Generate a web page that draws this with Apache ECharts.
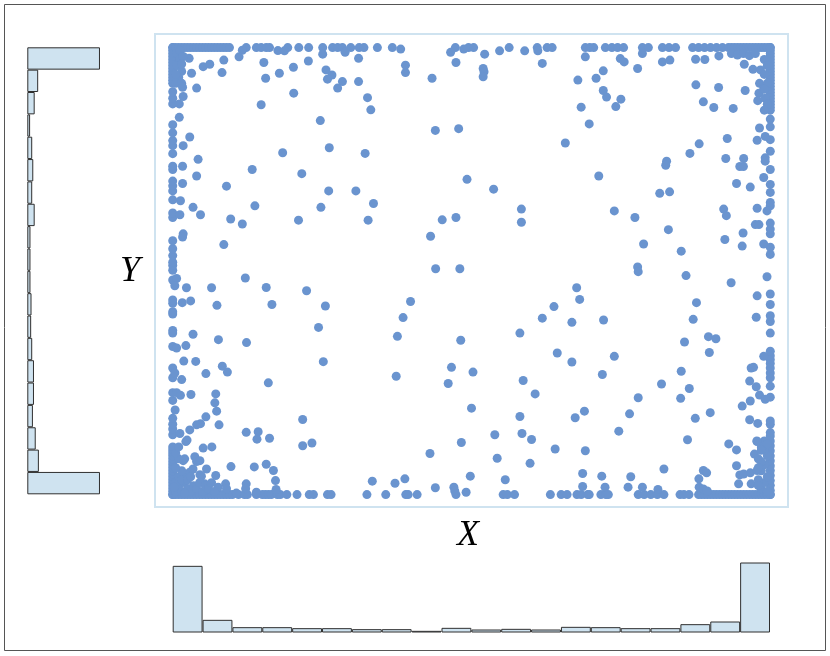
<!DOCTYPE html>
<html>
<head>
<meta charset="utf-8">
<script src="https://cdn.jsdelivr.net/npm/echarts@6/dist/echarts.min.js"></script>
<style>
  html, body { margin: 0; padding: 0; background: #fff; }
  #main { width: 830px; height: 656px; }
</style>
</head>
<body>
<div id="main"></div>
<script>
// points sitting on the edges of the data range (x 0..200, y 0..150)
var leftEdgeY = [0, 1, 2, 3, 4, 5, 6, 7, 8, 9, 10, 11, 12, 13, 14, 15, 16, 20.1, 22, 23.6, 25.6, 31.6, 34.2, 39.2,
  42.5, 49.7, 54.2, 55.1, 60.6, 61.4, 64.2, 65.3, 72, 75.3, 76.9, 78, 80.2, 82.5, 85.2, 93, 94.5, 98.9,
  101.9, 103.6, 105.2, 109.1, 110.2, 114.4, 117.1, 118.8, 121.4, 124.1, 131.1, 133, 135.2,
  138, 139, 140, 141, 142, 143, 144, 145, 146, 147, 148, 149, 150];
var rightEdgeY = [0, 1.4, 3.1, 4.7, 6.4, 8.1, 9.7, 11.4, 13, 14.7, 16.4, 18, 19.7, 20.8, 23.6, 24.7, 32.7, 36.4,
  39.2, 40.8, 42.5, 44, 45.3, 46.6, 48.1, 54.2, 58.1, 60, 63.8, 67.3, 80.6, 83, 87.5, 89.1, 91.1, 96.9, 98,
  101.4, 104.1, 109.1, 115.2, 119.1, 123.4, 126, 129, 130, 131, 132, 133, 134, 135, 136, 137, 138, 139,
  140, 141, 142, 143, 144, 145, 146, 147, 148, 149, 150];
var bottomEdgeX = [0, 1, 2, 3, 4, 5, 6, 7, 8, 9, 10, 11, 12, 13, 14, 15, 16, 17, 18, 19, 20, 22, 24, 25, 28, 30,
  31, 32, 33, 35, 36, 38.2, 41.6, 45.7, 47.1, 51.8, 53, 65, 71.3, 78, 78.8, 81.8, 94.8, 110.6, 112, 114.4,
  126.4, 130, 132, 135.3, 136.7, 138.9, 139.4, 143.3, 145, 145.8, 155.8, 157.8, 160, 162.2, 164.4, 169.8,
  171.1, 172.8, 176, 177, 178, 179, 180, 181, 182, 183, 184, 185, 186, 187, 188, 189, 190, 191, 192, 193,
  194, 195, 196, 197, 198, 199, 200];
var topEdgeX = [0, 1, 2, 3, 4, 5, 6, 7, 8, 9, 10, 11, 12, 13, 14, 15, 16, 17, 18, 19, 24.6, 28, 29.6, 31.3, 32.4,
  38.5, 42.2, 45.5, 50.2, 53.5, 55.2, 56.8, 59.6, 62.4, 64, 68.5, 73.5, 94.6, 99, 100.7, 112.6, 122, 125.3,
  127, 138.1, 139.6, 140.9, 144.8, 147, 148.9, 150.9, 157.2, 159.2, 163.9, 166.1, 168.3, 174, 176, 178,
  180, 182, 184, 186, 187, 188, 189, 190, 191, 192, 193, 194, 195, 196, 197, 198, 199, 200];

// points inside the range
var innerPts = [
  // upper left
  [5.5, 146.4], [10.2, 143.6], [12.4, 144.4], [17.1, 145.8], [22.2, 146.9], [23.3, 149.1], [30.5, 145],
  [6.3, 141.4], [16.5, 141.6], [31.1, 139.7], [35.7, 141.4], [40.4, 143.4], [45.4, 145.5], [51.3, 142.5],
  [53.3, 140.8], [51.8, 139.4], [62.2, 146.4], [77.9, 144.1], [77.9, 141.6], [86.8, 139.7], [94.8, 145],
  [35.2, 149], [37.4, 148.9], [50.2, 147.8], [57.7, 148.4], [76.3, 149.5], [93, 148.4], [97.4, 149.5],
  [1.5, 148], [2.5, 146], [1.5, 144], [3, 142], [2, 140], [1, 138], [2.5, 149], [3.5, 147], [3, 144.5], [1, 141],
  [3, 138], [3.3, 136.7], [8, 136.4], [40.5, 134.7], [56.8, 138.6], [55.2, 136.4], [62.2, 138.6], [3.5, 133.6],
  [2.2, 131.1], [29.6, 130.8], [65.2, 133.2], [66.3, 129.1], [2.2, 126.6], [49.4, 125.5], [87.9, 122.2],
  [95.7, 122.8], [5.7, 120], [3.5, 117.1], [52.4, 116.4], [36.8, 114.7], [64.4, 114.5], [3.3, 110.2],
  [8.5, 112.5], [8, 106.9], [26.6, 109.1], [43.2, 107.7], [98.5, 105.8], [3.3, 104.4], [18, 103.5],
  [52.2, 101.9], [61.3, 101.9], [2.6, 98.6], [67.2, 97.7], [6.8, 96.4], [27.5, 96.9], [49.6, 96.4],
  [9.3, 93.9], [2.4, 93.9], [19.4, 92.5], [23.3, 90.8], [42.1, 92.1], [65.4, 92.1], [90.2, 92.2], [94.8, 93],
  [3.5, 87.5], [3.3, 86.4], [17.1, 83.9], [86.3, 86.7],
  // upper right
  [103.9, 143], [104.2, 141.9], [103.9, 140.2], [104.4, 147.8], [109.4, 148.9], [117.8, 148.9], [122.2, 148.9],
  [123.7, 144.7], [138.1, 146.9], [149.8, 146.3], [151.1, 145.2], [155.6, 143], [157.2, 148], [163.9, 145.2],
  [166.4, 145.8], [175, 146.1], [178.1, 146], [182.8, 147.2], [187, 148], [189, 147.5], [191, 148],
  [193, 147.3], [195, 148], [191.3, 144.4], [194.2, 142.7], [196.7, 142.5], [196.4, 138], [197.8, 136.4],
  [196.2, 134.7], [195.8, 132.2], [198.3, 133], [198, 146], [199, 144], [198, 141], [199, 138], [198, 136],
  [199, 131], [198, 129],
  [135.6, 139.1], [141.7, 139.7], [144.1, 142.2], [144.1, 135.6], [145.2, 133.4], [150, 132.7], [148.3, 130.2],
  [136.7, 130], [139.4, 124.4], [131.4, 118], [175.1, 137.5], [182.7, 136.6], [191.6, 135.6], [177.6, 131.8],
  [181.1, 129.9], [187.6, 129.6], [196.4, 123], [195.6, 118.9], [198.3, 120.2], [185.6, 119.5], [176.2, 117.7],
  [173.1, 114.5], [165.3, 111.9], [165, 110.5], [185.1, 112.8], [191.1, 112.8], [189.8, 110.1], [191, 110.1],
  [198.3, 113], [198.3, 111.9], [197.8, 106.4], [198.9, 95.2], [142.6, 106.9], [107.4, 102.5], [116.7, 95.8],
  [116.7, 91.4], [147.8, 95.2], [154.7, 93], [163, 101.1], [166.3, 101.6], [165.9, 88.9], [157.6, 84.1],
  [170.2, 81.7], [155.6, 76.4], [184.4, 95.8], [185.3, 93.6], [188.7, 104.4], [193.3, 103.2], [195.6, 96.1],
  [195, 90.6], [196.2, 90.6], [184.8, 85.6], [190.9, 87.8], [190.6, 83.4], [197.8, 84.1],
  // lower left
  [88, 75.8], [96.1, 75.8], [1.3, 72.5], [0.7, 70.1], [4.6, 69.4], [13, 69.4], [24.3, 72.7], [31.3, 69.5],
  [44.8, 68.4], [3.2, 64.4], [6, 65], [14.8, 63.5], [33.2, 63.8], [51.1, 63.3], [79.6, 64.8], [77.1, 59.4],
  [48.8, 56.1], [75.2, 53.1], [96.4, 51.8], [6.8, 53.8], [15.3, 52], [24.7, 51], [1.3, 49.2], [4.4, 50],
  [3.7, 44.8], [7.7, 44.7], [50.4, 44.6], [0.7, 40.8], [3, 38.6], [11.1, 40.6], [16.6, 43.1], [18.3, 41.1],
  [32, 37.5], [74.8, 39.7], [93.3, 42.7], [100.5, 41.1], [92.2, 37.3], [1.3, 34.2], [2.6, 33.3], [6.1, 33.6],
  [14.4, 33.8], [14.1, 30.8], [14.7, 28], [0.8, 28.4], [100, 29], [11.1, 26.1], [8, 23.4], [9.3, 23.8],
  [15.5, 23.4], [43.5, 25.2], [2.4, 20.5], [5.7, 21.7], [24.6, 20.9], [28.6, 21.1], [28.2, 18.6], [32.4, 18.9],
  [4.4, 17.8], [4.8, 18.3], [43.5, 16.4], [46.6, 17.3], [96.6, 17.5], [86.1, 13.8], [10.2, 15.6], [13.1, 16],
  [3.5, 11.4], [4, 12], [7.4, 12.7], [8, 11.1], [9.1, 11.4], [6.8, 8.6], [5.7, 7.5], [4.4, 6.7], [11.3, 8.6],
  [9.6, 6.2], [9.1, 6.7], [14.4, 6.4], [19.5, 9.4], [27.3, 9.3], [31.3, 10.2], [33.7, 8.1], [34.4, 4.7],
  [24.6, 3.6], [17.7, 3.6], [66.8, 4.5], [74.4, 3.8], [77.7, 5.3], [87.9, 2.3], [94.1, 2.5], [94.4, 1.2],
  [98.2, 0.8], [99.6, 6.2], [6.8, 2.5], [10.7, 3.6], [15.2, 2.5], [18, 2], [21.3, 0.5], [24.4, 2], [28, 0.8],
  [34.6, 1.7], [1, 1], [2, 3], [3, 1], [4, 4], [5, 2], [6, 1], [1, 4], [2, 6], [3, 5], [0.5, 2.5], [4, 0.5],
  [5, 5], [7, 3], [8, 2], [9, 4], [10, 1], [11, 3], [12, 2], [13, 4], [14, 1], [6, 6], [3, 8], [1, 9], [2, 12],
  [1, 14], [2, 16],
  // lower right
  [155.8, 74.8], [171.8, 73.5], [186.9, 71.1], [198.9, 73.1], [135.2, 69.4], [136.2, 65.5], [127.6, 63.1],
  [123.7, 59.2], [133.6, 57.8], [144.2, 58.6], [195.6, 66.7], [175.3, 64.4], [174.2, 58.8], [195.3, 59.5],
  [116.2, 54.2], [179.3, 53], [181.8, 52.3], [171.3, 51.2], [179.6, 47.7], [128.7, 47.5], [133.6, 44.5],
  [147.8, 46.4], [117.3, 38.3], [143.8, 40.3], [170.2, 41.4], [193.6, 42.5], [194.4, 42.7], [193.1, 38.1],
  [195.3, 36.2], [196.4, 33.4], [198.3, 32], [197.8, 46.4], [121.3, 33.8], [163.6, 37.1], [172.9, 35.6],
  [170, 32.3], [155.8, 32.5], [193.3, 31.4], [190.6, 29.7], [116.2, 26.2], [134.7, 25.8], [137.8, 28],
  [152.9, 27.1], [179.9, 27.5], [174.9, 25.6], [193.1, 25.1], [195.8, 23.9], [107.8, 20.1], [116.9, 20.5],
  [120.1, 18.5], [149.3, 21.3], [172.3, 18.4], [195.6, 17.8], [108.6, 12.2], [128, 15.3], [138.1, 14.7],
  [119.6, 10.5], [186.1, 17], [188.7, 15], [194.7, 13.6], [197.2, 15.3], [111.3, 5], [137.2, 7.1],
  [143.6, 6.2], [153.3, 6], [164.4, 8.6], [177.6, 8.1], [178.7, 7.3], [176.1, 5.3], [188.7, 9.7],
  [189.8, 6.6], [191.1, 6.9], [193.3, 7.3], [195.6, 8.1], [189.4, 3.6], [193.6, 3.6], [137.2, 2.7],
  [144.7, 2.5], [152.4, 2.5], [157.2, 2.5], [162.4, 1.7], [176.2, 2.5], [177.6, 1.9], [178.9, 1.2],
  [197, 2], [198, 4], [199, 6], [197, 8], [198, 10], [196, 12], [199, 13], [197, 16], [198, 18], [196, 5],
  [199, 1], [198, 15], [197, 11], [196, 9], [199, 17], [196, 3], [197, 14.9], [195.5, 18]
];

// marginal histogram counts (20 bins each)
var xBins = ['0', '10', '20', '30', '40', '50', '60', '70', '80', '90',
  '100', '110', '120', '130', '140', '150', '160', '170', '180', '190'];
var xCounts = [200, 38, 16, 16, 13, 13, 10, 10, 5, 14, 9, 11, 9, 17, 16, 13, 13, 25, 33, 210];
// y bins listed bottom to top
var yBins = ['0', '7.5', '15', '22.5', '30', '37.5', '45', '52.5', '60', '67.5',
  '75', '82.5', '90', '97.5', '105', '112.5', '120', '127.5', '135', '142.5'];
var yCounts = [207, 33, 24, 16, 19, 19, 14, 11, 12, 9, 9, 9, 21, 14, 17, 14, 8, 21, 31, 207];

var scatterData = [];
leftEdgeY.forEach(function (y) { scatterData.push([0, y]); });
rightEdgeY.forEach(function (y) { scatterData.push([200, y]); });
bottomEdgeX.forEach(function (x) { scatterData.push([x, 0]); });
topEdgeX.forEach(function (x) { scatterData.push([x, 150]); });
innerPts.forEach(function (p) { scatterData.push(p); });

var histFill = '#cfe3f0';
var histLine = '#2f2f2f';

var myChart = echarts.init(document.getElementById('main'));
var option = {
  animation: false,
  backgroundColor: '#ffffff',
  grid: [
    // scatter panel, framed in light blue
    { left: 155, top: 34, width: 633, height: 473, show: true, borderColor: '#cfe3f0', borderWidth: 2 },
    // bottom histogram
    { left: 172.7, top: 557.5, width: 597.3, height: 75 },
    // left histogram
    { left: 27.3, top: 47.3, width: 79, height: 447 }
  ],
  xAxis: [
    { gridIndex: 0, type: 'value', min: -5.93, max: 205.93, show: false },
    { gridIndex: 1, type: 'category', data: xBins, show: false },
    { gridIndex: 2, type: 'value', min: 0, max: 225, show: false }
  ],
  yAxis: [
    { gridIndex: 0, type: 'value', min: -4.16, max: 154.56, show: false },
    { gridIndex: 1, type: 'value', min: 0, max: 225, show: false },
    { gridIndex: 2, type: 'category', data: yBins, show: false }
  ],
  series: [
    {
      type: 'scatter',
      xAxisIndex: 0,
      yAxisIndex: 0,
      symbolSize: 9,
      itemStyle: { color: '#6a94cf', opacity: 1 },
      data: scatterData
    },
    {
      type: 'bar',
      xAxisIndex: 1,
      yAxisIndex: 1,
      barCategoryGap: '0%',
      itemStyle: { color: histFill, borderColor: histLine, borderWidth: 1 },
      data: xCounts
    },
    {
      type: 'bar',
      xAxisIndex: 2,
      yAxisIndex: 2,
      barCategoryGap: '0%',
      itemStyle: { color: histFill, borderColor: histLine, borderWidth: 1 },
      data: yCounts
    }
  ],
  graphic: [
    {
      type: 'rect',
      shape: { x: 4.5, y: 4.5, width: 821, height: 646 },
      style: { fill: 'none', stroke: '#555555', lineWidth: 1 },
      silent: true
    },
    {
      type: 'text',
      x: 468, y: 536,
      style: { text: 'X', font: 'italic 36px "Liberation Serif"', fill: '#000', align: 'center', verticalAlign: 'middle' }
    },
    {
      type: 'text',
      x: 130, y: 272,
      style: { text: 'Y', font: 'italic 36px "Liberation Serif"', fill: '#000', align: 'center', verticalAlign: 'middle' }
    }
  ]
};
myChart.setOption(option);
</script>
</body>
</html>
